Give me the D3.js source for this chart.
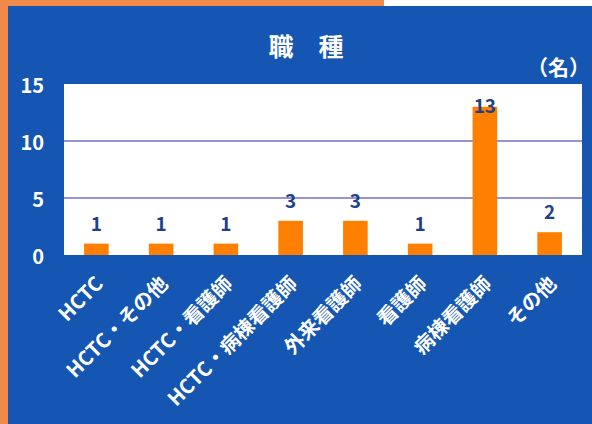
<!DOCTYPE html>
<html>
<head>
<meta charset="utf-8">
<script src="https://cdn.jsdelivr.net/npm/d3@7"></script>
<style>
  body { margin: 0; background: #fff; }
  svg text { font-family: "Noto Sans CJK JP", "Noto Sans", sans-serif; }
</style>
</head>
<body>
<div id="chart"></div>
<script>
// Data
const categories = ["HCTC", "HCTC・その他", "HCTC・看護師", "HCTC・病棟看護師", "外来看護師", "看護師", "病棟看護師", "その他"];
const counts = [1, 1, 1, 3, 3, 1, 13, 2];
const yTicks = [0, 5, 10, 15];
const title = "職　種";
const unitLabel = "（名）";

const width = 592, height = 424;
const margin = { top: 84, right: 10, bottom: 169, left: 64 };

const svg = d3.select("#chart")
    .append("svg")
    .attr("width", width)
    .attr("height", height);

// Frame: orange strips and blue panel
svg.append("rect").attr("x", 0).attr("y", 0).attr("width", 384).attr("height", 6).attr("fill", "#f08a4b");
svg.append("rect").attr("x", 0).attr("y", 0).attr("width", 8).attr("height", height).attr("fill", "#f08a4b");
svg.append("rect").attr("x", 8).attr("y", 6).attr("width", width - 8).attr("height", height - 6).attr("fill", "#1456b1");

// Scales
const x = d3.scaleBand()
    .domain(categories)
    .range([margin.left, width - margin.right])
    .paddingInner(0.62)
    .paddingOuter(0.31);

const y = d3.scaleLinear()
    .domain([0, 15])
    .range([height - margin.bottom, margin.top]);

// Plot area
svg.append("rect")
    .attr("x", margin.left)
    .attr("y", margin.top)
    .attr("width", width - margin.right - margin.left)
    .attr("height", y(0) - margin.top)
    .attr("fill", "#ffffff");

// Gridlines
svg.selectAll(".grid")
    .data(yTicks.filter(d => d > 0 && d < 15))
    .join("line")
    .attr("x1", margin.left)
    .attr("x2", width - margin.right)
    .attr("y1", d => y(d))
    .attr("y2", d => y(d))
    .attr("stroke", "#7272c8")
    .attr("stroke-width", 1.5);

// Y tick labels
svg.selectAll(".ytick")
    .data(yTicks)
    .join("text")
    .attr("x", 44)
    .attr("y", d => y(d) + 9)
    .attr("text-anchor", "end")
    .attr("fill", "#ffffff")
    .attr("font-size", 20)
    .attr("font-weight", "bold")
    .text(d => d);

// Bars
svg.selectAll(".bar")
    .data(counts)
    .join("rect")
    .attr("x", (d, i) => x(categories[i]))
    .attr("y", d => y(d))
    .attr("width", x.bandwidth())
    .attr("height", d => y(0) - y(d))
    .attr("fill", "#ff7f00");

// Value labels (the tallest one sits just inside the bar top)
svg.selectAll(".val")
    .data(counts)
    .join("text")
    .attr("x", (d, i) => x(categories[i]) + x.bandwidth() / 2)
    .attr("y", d => y(d) - 14 < margin.top + 20 ? y(d) + 6 : y(d) - 13)
    .attr("text-anchor", "middle")
    .attr("fill", "#223f8a")
    .attr("font-size", 19)
    .attr("font-weight", "bold")
    .text(d => d);

// X labels, rotated
svg.selectAll(".xlab")
    .data(categories)
    .join("text")
    .attr("transform", d => `translate(${x(d) + x.bandwidth() / 2 + 8},${y(0) + 30}) rotate(-45)`)
    .attr("text-anchor", "end")
    .attr("fill", "#ffffff")
    .attr("font-size", 20)
    .attr("font-weight", "bold")
    .text(d => d);

// Title and unit
svg.append("text")
    .attr("x", 306)
    .attr("y", 56)
    .attr("text-anchor", "middle")
    .attr("fill", "#ffffff")
    .attr("font-size", 25)
    .attr("font-weight", "bold")
    .text(title);

svg.append("text")
    .attr("x", 590)
    .attr("y", 75)
    .attr("text-anchor", "end")
    .attr("fill", "#ffffff")
    .attr("font-size", 21)
    .attr("font-weight", "bold")
    .text(unitLabel);
</script>
</body>
</html>
